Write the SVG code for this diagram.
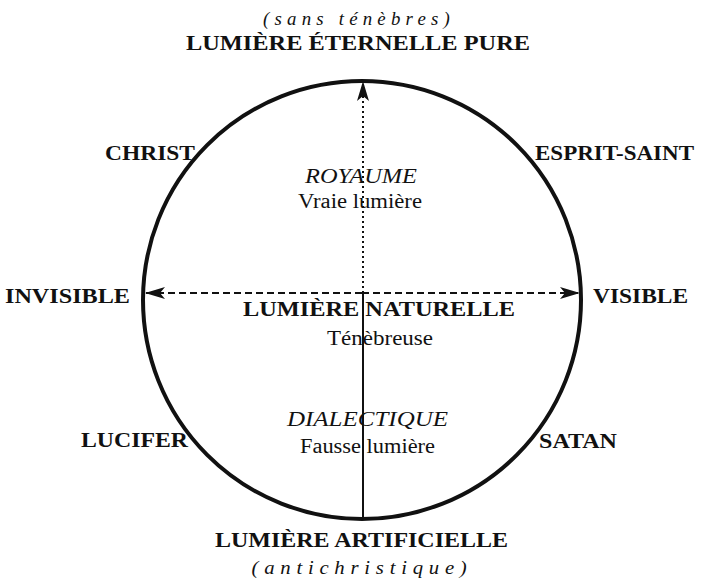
<svg xmlns="http://www.w3.org/2000/svg" width="701" height="581" viewBox="0 0 701 581">
<style>
.t{font-family:"Liberation Serif","Times New Roman",serif;fill:#111;text-anchor:middle}
.b{font-weight:bold;font-size:21px}
.i{font-style:italic;font-size:21px}
.r{font-size:20px}
.s{font-style:italic;font-size:18px;letter-spacing:5px}
</style>
<defs>
<marker id="ah" viewBox="0 0 20 12" refX="19" refY="6" markerWidth="20" markerHeight="12" markerUnits="userSpaceOnUse" orient="auto">
<path d="M0,0 L20,6 L0,12 L5,6 Z" fill="#111"/>
</marker>
</defs>
<g id="circle"><circle cx="362" cy="300" r="219" fill="none" stroke="#111" stroke-width="4"/></g>
<g id="connectors" stroke="#111" fill="none">
<line x1="363" y1="293" x2="363" y2="82" stroke-width="2" stroke-dasharray="2,3" marker-end="url(#ah)"/>
<line x1="363" y1="293" x2="363" y2="519" stroke-width="2"/>
<line x1="362" y1="293" x2="146" y2="293" stroke-width="2" stroke-dasharray="7,4" marker-end="url(#ah)"/>
<line x1="362" y1="293" x2="579" y2="293" stroke-width="2" stroke-dasharray="7,4" marker-end="url(#ah)"/>
</g>
<g id="top"><text class="t s" x="359" y="25" textLength="192" lengthAdjust="spacingAndGlyphs">(sans ténèbres)</text>
<text class="t b" x="358" y="50" textLength="344" lengthAdjust="spacingAndGlyphs">LUMIÈRE ÉTERNELLE PURE</text></g>
<g id="christ"><text class="t b" x="150" y="160" textLength="90" lengthAdjust="spacingAndGlyphs">CHRIST</text></g>
<g id="esprit"><text class="t b" x="614.5" y="160" textLength="159" lengthAdjust="spacingAndGlyphs">ESPRIT-SAINT</text></g>
<g id="invisible"><text class="t b" x="67.5" y="303" textLength="125" lengthAdjust="spacingAndGlyphs">INVISIBLE</text></g>
<g id="visible"><text class="t b" x="640.5" y="303" textLength="95" lengthAdjust="spacingAndGlyphs">VISIBLE</text></g>
<g id="lucifer"><text class="t b" x="134.5" y="447" textLength="107" lengthAdjust="spacingAndGlyphs">LUCIFER</text></g>
<g id="satan"><text class="t b" x="578" y="448" textLength="78" lengthAdjust="spacingAndGlyphs">SATAN</text></g>
<g id="royaume"><text class="t i" x="361" y="183" textLength="112" lengthAdjust="spacingAndGlyphs">ROYAUME</text>
<text class="t r" x="360" y="208" textLength="124" lengthAdjust="spacingAndGlyphs">Vraie lumière</text></g>
<g id="naturelle"><text class="t b" x="379" y="316" textLength="272" lengthAdjust="spacingAndGlyphs">LUMIÈRE NATURELLE</text>
<text class="t r" x="380" y="345" textLength="106" lengthAdjust="spacingAndGlyphs">Ténèbreuse</text></g>
<g id="dialectique"><text class="t i" x="367.5" y="426" textLength="161" lengthAdjust="spacingAndGlyphs">DIALECTIQUE</text>
<text class="t r" x="367.5" y="453" textLength="135" lengthAdjust="spacingAndGlyphs">Fausse lumière</text></g>
<g id="artificielle"><text class="t b" x="361.5" y="547" textLength="293" lengthAdjust="spacingAndGlyphs">LUMIÈRE ARTIFICIELLE</text>
<text class="t s" x="362" y="574" textLength="221" lengthAdjust="spacingAndGlyphs">(antichristique)</text></g>
</svg>
